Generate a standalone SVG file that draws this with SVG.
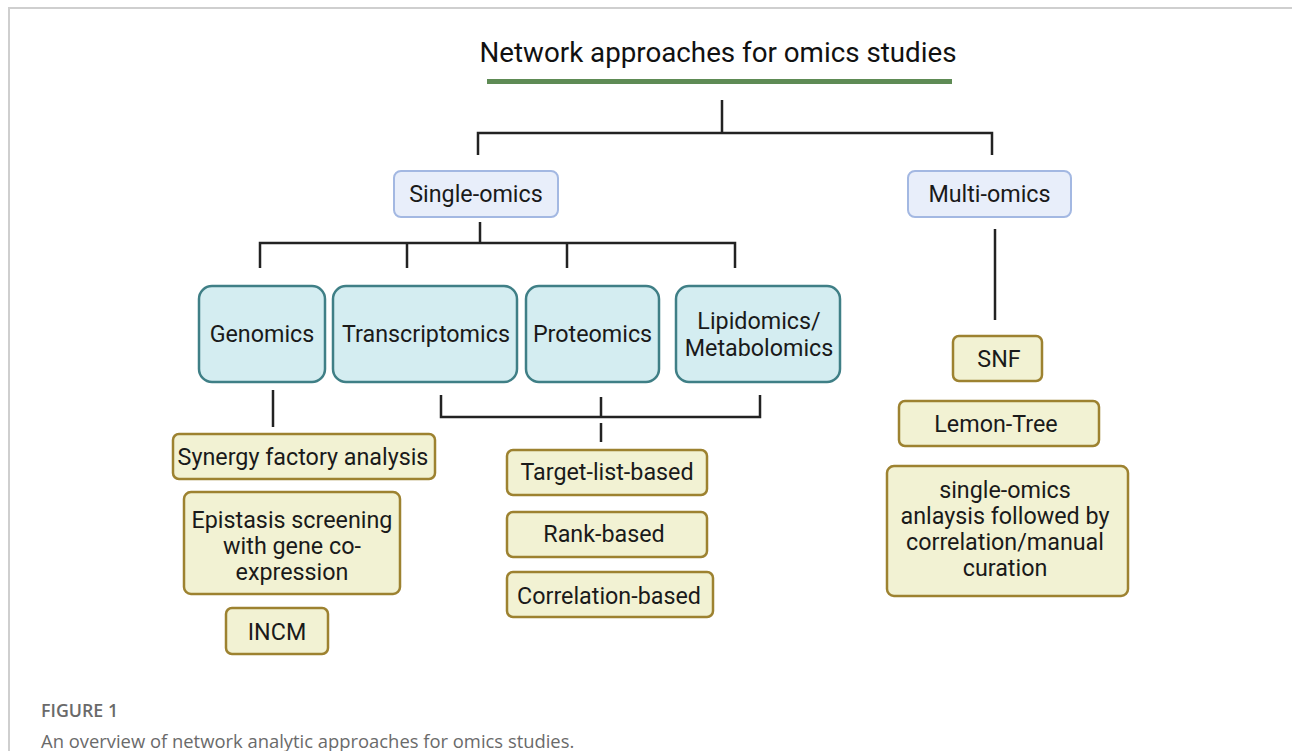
<svg xmlns="http://www.w3.org/2000/svg" width="1292" height="751" viewBox="0 0 1292 751">
  <style>
    .t { font-family: Roboto, "Liberation Sans", Arial, sans-serif; font-size: 23.3px; fill: #1a1a1a; text-anchor: middle; dominant-baseline: central; }
    .top { fill: #e8eefa; stroke: #a3b8e2; stroke-width: 2; }
    .omic { fill: #d4edf1; stroke: #3f7f86; stroke-width: 2.5; }
    .meth { fill: #f2f2d3; stroke: #9d8230; stroke-width: 2.5; }
    .ln { fill: none; stroke: #222; stroke-width: 2.5; }
    .cap { font-family: "Open Sans", "Noto Sans", sans-serif; fill: #6a6a6a; }
  </style>

  <!-- page frame -->
  <path d="M9 751 V8 H1292" fill="none" stroke="#cfcfcf" stroke-width="2"/>

  <!-- heading -->
  <g id="title">
    <text x="718" y="53" font-family="Roboto, 'Liberation Sans', sans-serif" font-size="27" fill="#111" text-anchor="middle" dominant-baseline="central" textLength="477" lengthAdjust="spacingAndGlyphs">Network approaches for omics studies</text>
    <rect x="487" y="79" width="465" height="5" fill="#5e8b55"/>
  </g>

  <!-- tree connectors -->
  <g id="connectors" class="ln">
    <path d="M722 100 V133 M478 155 V133 H992 V155"/>
    <path d="M480 222 V243 M260 268 V243 H735 V268 M407 243 V268 M567 243 V268"/>
    <path d="M273 390 V427"/>
    <path d="M441 395 V417 H760 V395 M601 397 V417 M601 423 V442"/>
    <path d="M995 229 V320"/>
  </g>

  <g id="single-omics">
    <rect class="top" x="394" y="171" width="164" height="46" rx="7"/>
    <text class="t" x="476" y="194">Single-omics</text>
  </g>
  <g id="multi-omics">
    <rect class="top" x="908" y="171" width="163" height="46" rx="7"/>
    <text class="t" x="989.5" y="194">Multi-omics</text>
  </g>

  <g id="genomics">
    <rect class="omic" x="199" y="286" width="126" height="96" rx="13"/>
    <text class="t" x="262" y="334">Genomics</text>
  </g>
  <g id="transcriptomics">
    <rect class="omic" x="333" y="286" width="184" height="96" rx="13"/>
    <text class="t" x="426" y="334">Transcriptomics</text>
  </g>
  <g id="proteomics">
    <rect class="omic" x="526" y="286" width="133" height="96" rx="13"/>
    <text class="t" x="592.5" y="334">Proteomics</text>
  </g>
  <g id="lipidomics">
    <rect class="omic" x="676" y="286" width="164" height="96" rx="13"/>
    <text class="t" x="759" y="321">Lipidomics/</text>
    <text class="t" x="759" y="348">Metabolomics</text>
  </g>

  <g id="synergy">
    <rect class="meth" x="173" y="434" width="262" height="45" rx="6"/>
    <text class="t" x="303" y="457">Synergy factory analysis</text>
  </g>
  <g id="epistasis">
    <rect class="meth" x="184" y="492" width="216" height="102" rx="7"/>
    <text class="t" x="292" y="520">Epistasis screening</text>
    <text class="t" x="292" y="546">with gene co-</text>
    <text class="t" x="292" y="572">expression</text>
  </g>
  <g id="incm">
    <rect class="meth" x="226" y="608" width="102" height="46" rx="6"/>
    <text class="t" x="277" y="632">INCM</text>
  </g>

  <g id="target-list">
    <rect class="meth" x="507" y="450" width="200" height="45" rx="6"/>
    <text class="t" x="607" y="472">Target-list-based</text>
  </g>
  <g id="rank">
    <rect class="meth" x="507" y="512" width="200" height="45" rx="6"/>
    <text class="t" x="604" y="534">Rank-based</text>
  </g>
  <g id="correlation">
    <rect class="meth" x="507" y="572" width="206" height="45" rx="6"/>
    <text class="t" x="609" y="596">Correlation-based</text>
  </g>

  <g id="snf">
    <rect class="meth" x="953" y="336" width="89" height="45" rx="6"/>
    <text class="t" x="999" y="359">SNF</text>
  </g>
  <g id="lemon-tree">
    <rect class="meth" x="899" y="401" width="200" height="45" rx="6"/>
    <text class="t" x="996" y="424">Lemon-Tree</text>
  </g>
  <g id="single-then-correlate">
    <rect class="meth" x="887" y="466" width="241" height="130" rx="7"/>
    <text class="t" x="1005" y="490">single-omics</text>
    <text class="t" x="1005" y="516">anlaysis followed by</text>
    <text class="t" x="1005" y="542">correlation/manual</text>
    <text class="t" x="1005" y="568">curation</text>
  </g>

  <!-- caption -->
  <text class="cap" x="41" y="717" font-size="17.8" font-weight="600">FIGURE 1</text>
  <text class="cap" x="41" y="748" font-size="18.4">An overview of network analytic approaches for omics studies.</text>
</svg>
